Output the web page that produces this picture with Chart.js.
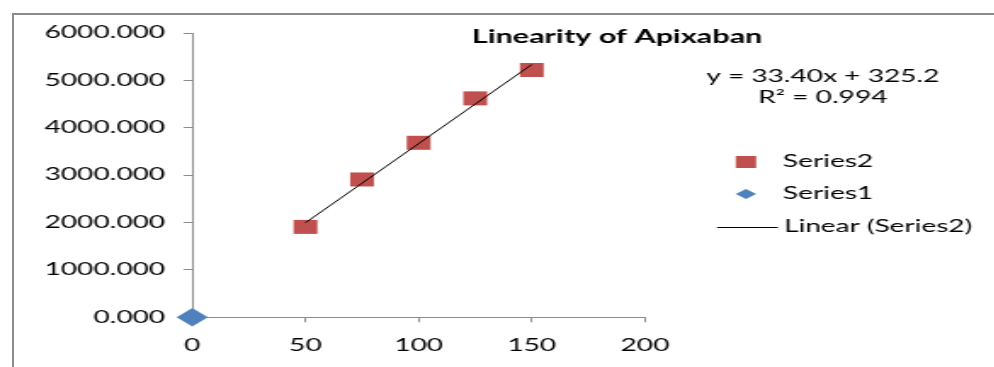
<!DOCTYPE html>
<html>
<head>
<meta charset="utf-8">
<script src="https://cdn.jsdelivr.net/npm/chart.js@4/dist/chart.umd.min.js"></script>
<style>
html, body { margin: 0; padding: 0; background: #fff; overflow: hidden; }
#marco { position: absolute; left: 12px; top: 13px; width: 1000px; height: 400px; border-left: 2px solid #8c8c8c; border-top: 2px solid #8c8c8c; }
#caja { position: absolute; left: 0; top: 0; width: 585px; height: 367px; transform: scaleX(1.7); transform-origin: 0 0; }
</style>
</head>
<body>
<div id="marco"></div>
<div id="caja"><canvas id="grafica" width="585" height="367"></canvas></div>
<script>
const $grafica = document.querySelector("#grafica");

// Datos
const concentracion = [50, 75, 100, 125, 150];
const areaPico = [1908, 2909, 3683, 4620, 5219];
const serie1X = [0];
const serie1Y = [0];
// Linea de tendencia (Excel)
const pendiente = 33.40;
const intercepto = 325.2;
const tendenciaX = [50, 150];
// Etiquetas de los ejes
const ticksX = [0, 50, 100, 150, 200];
const ticksY = [0, 1000, 2000, 3000, 4000, 5000, 6000];

const titulo = "Linearity of Apixaban";
const ecuacion = "y = 33.40x + 325.2";
const rCuadrado = "R\u00B2 = 0.994";
const rojo = "#C0504D";
const azul = "#4F81BD";
const gris = "#8c8c8c";
const fuente = "Lato";

// titulo, ecuacion y leyenda dibujados a mano
const adornos = {
    id: "adornos",
    afterDraw(chart) {
        const ctx = chart.ctx;
        ctx.save();
        ctx.fillStyle = "#000";
        ctx.textBaseline = "middle";
        ctx.textAlign = "center";
        ctx.font = "bold 18px " + fuente;
        ctx.fillText(titulo, 363, 37);
        ctx.font = "16.5px " + fuente;
        ctx.fillText(ecuacion, 484, 77);
        ctx.fillText(rCuadrado, 484, 98);

        ctx.textAlign = "left";
        // Series2
        ctx.fillStyle = rojo;
        ctx.fillRect(438.8 - 6, 162 - 6, 12, 12);
        // Series1
        ctx.fillStyle = azul;
        ctx.beginPath();
        ctx.moveTo(438.8 - 6, 194);
        ctx.lineTo(438.8, 189);
        ctx.lineTo(438.8 + 6, 194);
        ctx.lineTo(438.8, 199);
        ctx.closePath();
        ctx.fill();
        // Linear (Series2)
        ctx.strokeStyle = "#000";
        ctx.lineWidth = 1;
        ctx.beginPath();
        ctx.moveTo(421.8, 227.5);
        ctx.lineTo(457.6, 227.5);
        ctx.stroke();

        ctx.fillStyle = "#000";
        ctx.fillText(chart.data.datasets[1].label, 460.6, 162);
        ctx.fillText(chart.data.datasets[2].label, 460.6, 194);
        ctx.fillText(chart.data.datasets[0].label, 461.2, 227);
        ctx.restore();
    }
};

const estiloEje = {
    display: true,
    drawOnChartArea: false,
    drawTicks: true,
    tickLength: 5,
    color: gris,
    tickColor: gris,
};

new Chart($grafica, {
    type: "scatter",
    data: {
        datasets: [
            {
                type: "line",
                label: "Linear (Series2)",
                data: tendenciaX.map(x => ({ x: x, y: pendiente * x + intercepto })),
                borderColor: "#000",
                borderWidth: 1,
                pointRadius: 0,
                fill: false,
                clip: false,
                order: 0,
            },
            {
                label: "Series2",
                data: concentracion.map((x, i) => ({ x: x, y: areaPico[i] })),
                pointStyle: "rect",
                pointRadius: 9.9,
                backgroundColor: rojo,
                borderColor: rojo,
                borderWidth: 0,
                clip: false,
                order: 1,
            },
            {
                label: "Series1",
                data: serie1X.map((x, i) => ({ x: x, y: serie1Y[i] })),
                pointStyle: "rectRot",
                pointRadius: 9.2,
                backgroundColor: azul,
                borderColor: azul,
                borderWidth: 0,
                clip: false,
                order: 2,
            },
        ]
    },
    options: {
        responsive: false,
        animation: false,
        events: [],
        layout: { padding: { left: 0, top: 33, right: 205.6, bottom: 11.1 } },
        plugins: {
            legend: { display: false },
            title: { display: false },
            tooltip: { enabled: false },
        },
        scales: {
            x: {
                type: "linear",
                min: 0,
                max: 200,
                afterBuildTicks: s => { s.ticks = ticksX.map(v => ({ value: v })); },
                ticks: { color: "#000", font: { family: fuente, size: 16.5 }, padding: 13, maxRotation: 0 },
                grid: estiloEje,
                border: { color: gris, width: 1 },
                afterFit: s => { s.height = 38.6; },
            },
            y: {
                type: "linear",
                min: 0,
                max: 6000,
                afterBuildTicks: s => { s.ticks = ticksY.map(v => ({ value: v })); },
                ticks: { color: "#000", font: { family: fuente, size: 16.5 }, padding: 11, callback: v => v.toFixed(3) },
                grid: estiloEje,
                border: { color: gris, width: 1 },
                afterFit: s => { s.width = 113.1; },
            },
        },
    },
    plugins: [adornos],
});
</script>
</body>
</html>
